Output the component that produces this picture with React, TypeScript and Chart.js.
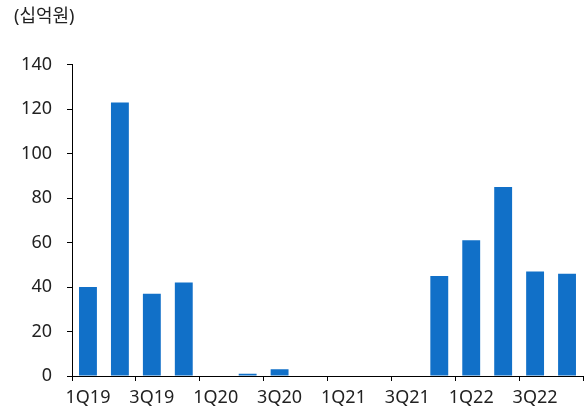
import React, { useEffect, useRef } from 'react';
import Chart from 'chart.js/auto';

const quarters = [
  '1Q19', '2Q19', '3Q19', '4Q19',
  '1Q20', '2Q20', '3Q20', '4Q20',
  '1Q21', '2Q21', '3Q21', '4Q21',
  '1Q22', '2Q22', '3Q22', '4Q22',
];
const values = [40, 123, 37, 42, 0, 1, 3, 0, 0, 0, 0, 45, 61, 85, 47, 46];
const unitLabel = '(십억원)';

const FONT = "'Noto Sans', 'Noto Sans CJK KR', sans-serif";
const TEXT = '#222';

const App: React.FC = () => {
  const canvasRef = useRef<HTMLCanvasElement>(null);
  const chartRef = useRef<Chart | null>(null);

  useEffect(() => {
    document.body.style.margin = '0';
    const ctx = canvasRef.current?.getContext('2d');
    if (!ctx) return;
    if (chartRef.current) chartRef.current.destroy();

    chartRef.current = new Chart(ctx, {
      type: 'bar',
      data: {
        labels: quarters,
        datasets: [
          {
            data: values,
            backgroundColor: '#1170c8',
            barPercentage: 0.56,
            categoryPercentage: 1,
          },
        ],
      },
      options: {
        animation: false,
        responsive: true,
        maintainAspectRatio: false,
        layout: { padding: { left: 14, right: 1, top: 0, bottom: 0 } },
        plugins: {
          legend: { display: false },
          tooltip: { enabled: false },
          title: {
            display: true,
            text: unitLabel,
            align: 'start',
            color: TEXT,
            font: { family: FONT, size: 18, weight: 'normal' },
            padding: { top: 6, bottom: 37 },
          },
        },
        scales: {
          x: {
            offset: true,
            grid: {
              offset: true,
              drawOnChartArea: false,
              tickLength: 5,
              tickColor: (c: any) =>
                c.index === undefined || c.index % 2 === 0 ? '#000' : 'rgba(0,0,0,0)',
            },
            border: { display: true, color: '#000', width: 1 },
            ticks: {
              autoSkip: false,
              maxRotation: 0,
              padding: 6,
              color: TEXT,
              font: { family: FONT, size: 18 },
              callback: (_v: any, i: number) => (i % 2 === 0 ? quarters[i] : ''),
            },
            afterFit: (scale: any) => {
              scale.height = 33;
            },
          },
          y: {
            min: 0,
            max: 140,
            grid: { drawOnChartArea: false, tickLength: 5, color: '#000' },
            border: { display: true, color: '#000', width: 1 },
            ticks: {
              stepSize: 20,
              padding: 15,
              color: TEXT,
              font: { family: FONT, size: 18 },
            },
            afterFit: (scale: any) => {
              scale.width = 58;
            },
          },
        },
      },
    });

    return () => {
      if (chartRef.current) {
        chartRef.current.destroy();
        chartRef.current = null;
      }
    };
  }, []);

  return (
    <div style={{ position: 'relative', width: 584, height: 409 }}>
      <canvas ref={canvasRef} />
    </div>
  );
};

export default App;
